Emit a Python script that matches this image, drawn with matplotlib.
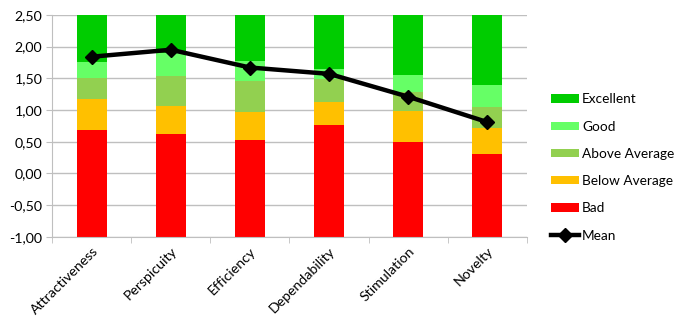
import numpy as np
import matplotlib.pyplot as plt
from matplotlib.ticker import FuncFormatter, FixedLocator

plt.rcParams.update({
    'font.family': ['Lato', 'DejaVu Sans'],
    'font.size': 10.2,
})

# UEQ benchmark borders (upper limit of each band) and measured means
scales = ['Attractiveness', 'Perspicuity', 'Efficiency', 'Dependability', 'Stimulation', 'Novelty']
bad = [0.69, 0.63, 0.53, 0.77, 0.49, 0.30]
below_avg = [1.17, 1.07, 0.97, 1.13, 0.98, 0.71]
above_avg = [1.51, 1.54, 1.46, 1.49, 1.29, 1.04]
good = [1.75, 1.90, 1.78, 1.65, 1.55, 1.39]
excellent = [2.50, 2.50, 2.50, 2.50, 2.50, 2.50]
mean = [1.84, 1.95, 1.67, 1.57, 1.21, 0.81]

y_min = -1.0
colors = ['#FF0000', '#FFC000', '#92D050', '#66FF66', '#00CC00']
names = ['Bad', 'Below Average', 'Above Average', 'Good', 'Excellent']

fig = plt.figure(figsize=(6.86, 3.30), dpi=100)
ax = fig.add_axes([0.076, 0.282, 0.692, 0.673])

x = np.arange(len(scales))
tops = [bad, below_avg, above_avg, good, excellent]
bottom = np.full(len(scales), y_min)
bars = []
for vals, c, n in zip(tops, colors, names):
    vals = np.array(vals)
    b = ax.bar(x, vals - bottom, bottom=bottom, width=0.38, color=c, label=n, zorder=2)
    bars.append(b)
    bottom = vals

line, = ax.plot(x, mean, color='black', lw=3.2, marker='D', markersize=7.5, label='Mean', zorder=3)

ax.set_xlim(-0.5, len(scales) - 0.5)
ax.set_ylim(-1.0, 2.5)
ax.set_yticks(np.arange(-1.0, 2.51, 0.5))
ax.yaxis.set_major_formatter(FuncFormatter(lambda v, p: f'{v:.2f}'.replace('.', ',')))
ax.grid(axis='y', color='#BFBFBF', lw=1, zorder=0)

ax.set_xticks(x)
ax.set_xticklabels(scales, rotation=45, ha='right', rotation_mode='anchor')
ax.tick_params(axis='x', which='major', length=0, pad=6)
ax.xaxis.set_minor_locator(FixedLocator(np.arange(-0.5, len(scales), 1.0)))
ax.tick_params(axis='x', which='minor', length=4, color='#BFBFBF')
ax.tick_params(axis='y', length=4, color='#BFBFBF', pad=3)

for s in ['top', 'right']:
    ax.spines[s].set_visible(False)
for s in ['left', 'bottom']:
    ax.spines[s].set_color('#BFBFBF')

handles = bars[::-1] + [line]
labels = names[::-1] + ['Mean']
fig.legend(handles, labels, loc='upper left', bbox_to_anchor=(0.803, 0.717),
           frameon=False, fontsize=9.8, handlelength=2.05, handleheight=0.55,
           labelspacing=1.12, handletextpad=0.25, borderpad=0, borderaxespad=0)

fig.savefig('out.png', dpi=100)
